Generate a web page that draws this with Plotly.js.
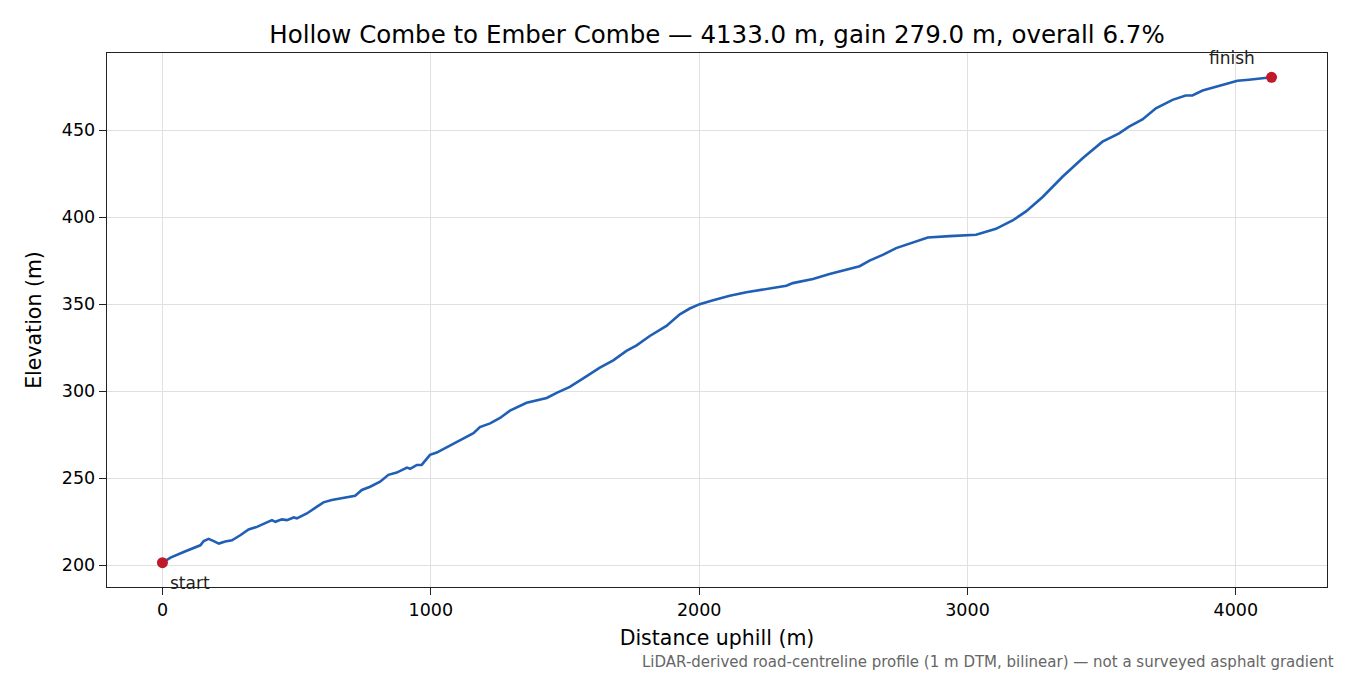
<!DOCTYPE html>
<html>
<head>
<meta charset="utf-8">
<script src="https://cdn.plot.ly/plotly-3.0.1.min.js"></script>
<style>
  body { margin: 0; background: #fff; }
  #graph { width: 1350px; height: 675px; }
</style>
</head>
<body>
<div id="graph"></div>
<script>
// distance along the road (m) and elevation (m)
var dist = [0, 30, 79, 116, 141, 154, 172, 191, 210, 234,
    259, 290, 321, 352, 383, 408, 421, 445, 464, 489,
    501, 538, 576, 600, 631, 675, 718, 743, 774, 811,
    842, 873, 911, 923, 948, 966, 997, 1022, 1047, 1084,
    1121, 1159, 1183, 1221, 1258, 1295, 1357, 1432, 1469, 1518,
    1568, 1630, 1680, 1729, 1767, 1816, 1878, 1928, 1965, 2002,
    2052, 2114, 2176, 2238, 2325, 2349, 2374, 2424, 2486, 2536,
    2598, 2635, 2684, 2734, 2796, 2852, 2933, 2995, 3032, 3106,
    3168, 3218, 3280, 3354, 3429, 3503, 3565, 3602, 3652, 3702,
    3764, 3813, 3838, 3876, 3937, 4006, 4049, 4133];
var elev = [201.5, 204.4, 207.7, 210.2, 211.5, 214, 215.2, 213.9, 212.5, 213.7,
    214.4, 217.3, 220.6, 222.1, 224.4, 226, 225, 226.4, 226, 227.5,
    227, 229.8, 233.7, 236.2, 237.5, 238.7, 240, 243.3, 245.2, 248.1,
    252, 253.3, 256.2, 255.5, 257.7, 257.7, 263.5, 264.8, 266.8, 269.9,
    272.6, 276, 279.5, 281.6, 284.7, 288.9, 293.4, 296.2, 299.1, 302.6,
    307.4, 313.6, 317.8, 323.2, 326.4, 331.8, 337.6, 344.3, 347.6, 350.1,
    352.4, 354.9, 356.9, 358.4, 360.7, 362.2, 363, 364.5, 367.4, 369.3,
    371.9, 375.1, 378.4, 382.3, 385.7, 388.4, 389.2, 389.6, 390, 393.4,
    398.2, 403.4, 411.7, 423.3, 434, 443.5, 448.3, 452.1, 456.3, 462.7,
    467.5, 470, 470, 472.9, 475.6, 478.5, 479.1, 480.5];

var endLabels = ['start', 'finish'];
var xTicks = [0, 1000, 2000, 3000, 4000];
var yTicks = [200, 250, 300, 350, 400, 450];

var font = 'DejaVu Sans, sans-serif';
var last = dist.length - 1;

var profile = {
    x: dist,
    y: elev,
    mode: 'lines',
    line: { color: '#1f5fb5', width: 2.6 },
    showlegend: false
};

var ends = {
    x: [dist[0], dist[last]],
    y: [elev[0], elev[last]],
    mode: 'markers',
    marker: { color: '#c01a2a', size: 11 },
    showlegend: false
};

var title = 'Hollow Combe to Ember Combe \u2014 4133.0 m, gain 279.0 m, overall 6.7%';

var layout = {
    width: 1350,
    height: 675,
    margin: { l: 107, r: 23, t: 53, b: 88 },
    paper_bgcolor: '#fff',
    plot_bgcolor: '#fff',
    font: { family: font, color: '#000', size: 17.5 },
    title: {
        text: title,
        font: { family: font, size: 24.5, color: '#000' },
        xref: 'paper', x: 0.5, xanchor: 'center',
        y: 1 - 34 / 675, yanchor: 'middle'
    },
    xaxis: {
        range: [-206.65, 4339.65],
        tickvals: xTicks,
        ticks: 'outside', ticklen: 7, tickwidth: 1.3, tickcolor: '#222',
        showline: true, linecolor: '#222', linewidth: 1.3, mirror: true,
        showgrid: true, gridcolor: '#e0e0e0', gridwidth: 1.1,
        zeroline: false,
        tickfont: { size: 17.5 },
        title: { text: 'Distance uphill (m)', font: { size: 20.5 }, standoff: 11 }
    },
    yaxis: {
        range: [187.55, 494.45],
        tickvals: yTicks,
        ticks: 'outside', ticklen: 7, tickwidth: 1.3, tickcolor: '#222',
        showline: true, linecolor: '#222', linewidth: 1.3, mirror: true,
        showgrid: true, gridcolor: '#e0e0e0', gridwidth: 1.1,
        zeroline: false,
        tickfont: { size: 17.5 },
        title: { text: 'Elevation (m)', font: { size: 20.5 }, standoff: 14 }
    },
    annotations: [
        {
            x: dist[0], y: elev[0], xref: 'x', yref: 'y',
            text: endLabels[0], showarrow: false,
            xanchor: 'left', yanchor: 'middle', xshift: 6, yshift: -20,
            font: { size: 17, color: '#222' }
        },
        {
            x: dist[last], y: elev[last], xref: 'x', yref: 'y',
            text: endLabels[1], showarrow: false,
            xanchor: 'right', yanchor: 'middle', xshift: -15, yshift: 19,
            font: { size: 17, color: '#222' }
        },
        {
            x: 1.0074, y: -0.1405, xref: 'paper', yref: 'paper',
            text: 'LiDAR-derived road-centreline profile (1 m DTM, bilinear) \u2014 not a surveyed asphalt gradient',
            showarrow: false, xanchor: 'right', yanchor: 'middle',
            font: { size: 15, color: '#666' }
        }
    ]
};

Plotly.newPlot('graph', [profile, ends], layout, { displayModeBar: false, staticPlot: true });
</script>
</body>
</html>
